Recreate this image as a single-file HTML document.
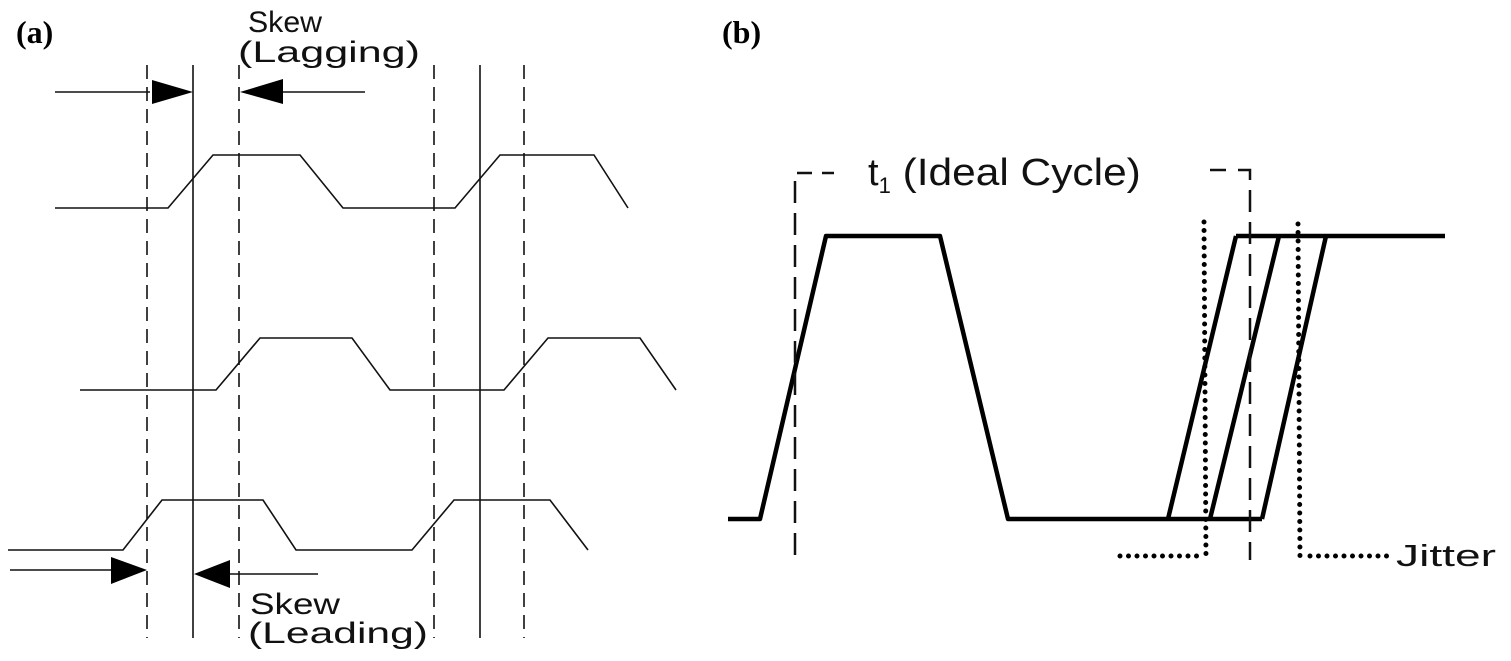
<!DOCTYPE html>
<html><head><meta charset="utf-8"><style>html,body{margin:0;padding:0;background:#fff}svg{display:block}</style></head><body>
<svg width="1511" height="661" viewBox="0 0 1511 661" xmlns="http://www.w3.org/2000/svg">
<g font-family="Liberation Serif, serif" font-weight="bold" font-size="32" fill="#000">
<text x="16" y="43">(a)</text>
<text x="722" y="43">(b)</text>
</g>
<g stroke="#111" stroke-width="1.6" fill="none">
<line x1="147" y1="65" x2="147" y2="638" stroke-dasharray="14,8"/>
<line x1="193" y1="65" x2="193" y2="638"/>
<line x1="239" y1="65" x2="239" y2="638" stroke-dasharray="14,8"/>
<line x1="434" y1="65" x2="434" y2="638" stroke-dasharray="14,8"/>
<line x1="480" y1="65" x2="480" y2="638"/>
<line x1="524" y1="65" x2="524" y2="638" stroke-dasharray="14,8"/>
<line x1="55" y1="92" x2="150" y2="92"/>
<line x1="280" y1="92" x2="365" y2="92"/>
<line x1="10" y1="570" x2="112" y2="570"/>
<line x1="230" y1="574" x2="318" y2="574"/>
<polyline points="55,208 168,208 213,155 300,155 343,208 455,208 500,155 594,155 628,208"/>
<polyline points="80,390 216,390 260,338 352,338 390,390 504,390 548,338 640,338 676,390"/>
<polyline points="8,550 123,550 162,500 263,500 296,550 412,550 454,500 550,500 588,550"/>
</g>
<g fill="#000">
<polygon points="152,80 193,92 152,104"/>
<polygon points="283,79 240,92 283,104"/>
<polygon points="111,557 147,570 111,584"/>
<polygon points="230,560 194,574 230,588"/>
</g>
<g font-family="Liberation Sans, sans-serif" font-size="30" fill="#111">
<text x="248" y="32" textLength="74" lengthAdjust="spacingAndGlyphs">Skew</text>
<text x="238" y="62" textLength="182" lengthAdjust="spacingAndGlyphs">(Lagging)</text>
<text x="250" y="614" textLength="90" lengthAdjust="spacingAndGlyphs">Skew</text>
<text x="248" y="643" textLength="180" lengthAdjust="spacingAndGlyphs">(Leading)</text>
</g>
<g stroke="#000" stroke-width="4.5" fill="none" stroke-linejoin="round">
<polyline points="728,519 760,519 826,236 940,236 1008,519 1262,519"/>
<line x1="1168" y1="519" x2="1236" y2="236"/>
<line x1="1210" y1="519" x2="1279" y2="236"/>
<line x1="1262" y1="519" x2="1326" y2="236"/>
<line x1="1236" y1="236" x2="1445" y2="236"/>
</g>
<g stroke="#111" stroke-width="2.5" fill="none">
<polyline points="795,555 795,173 812,173" stroke-dasharray="22,10"/>
<line x1="822" y1="173" x2="834" y2="173"/>
<line x1="1210" y1="170" x2="1226" y2="170"/>
<polyline points="1238,170 1250,170 1250,560" stroke-dasharray="22,10"/>
</g>
<g stroke="#000" stroke-width="5" stroke-linecap="round" stroke-dasharray="0,8.5" fill="none">
<line x1="1204" y1="222" x2="1206" y2="560"/>
<line x1="1298" y1="224" x2="1300" y2="560"/>
<line x1="1120" y1="556" x2="1200" y2="556"/>
<line x1="1310" y1="556" x2="1390" y2="556"/>
</g>
<g font-family="Liberation Sans, sans-serif" fill="#111">
<text x="868" y="185" font-size="38">t<tspan font-size="22" dy="8">1</tspan><tspan dy="-8" textLength="250" lengthAdjust="spacingAndGlyphs"> (Ideal Cycle)</tspan></text>
<text x="1396" y="566" font-size="31" textLength="100" lengthAdjust="spacingAndGlyphs">Jitter</text>
</g>
</svg>
</body></html>
